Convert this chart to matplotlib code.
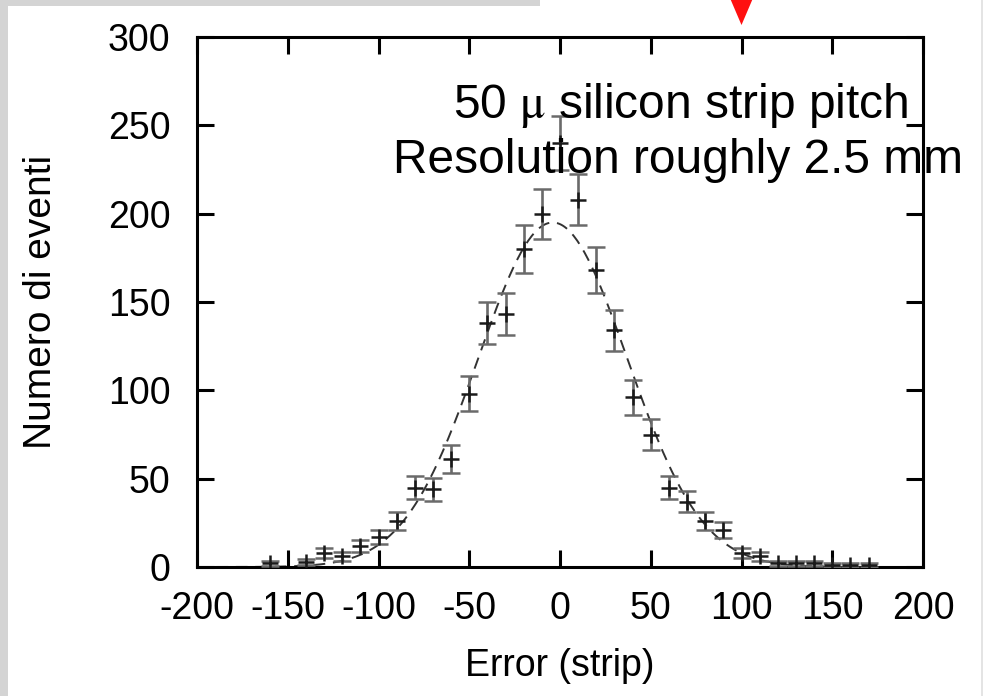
import numpy as np
import matplotlib
matplotlib.use('Agg')
import matplotlib.pyplot as plt
from matplotlib.patches import Rectangle, Polygon
from matplotlib import transforms

plt.rcParams['font.family'] = ['Liberation Sans', 'DejaVu Sans']
plt.rcParams['axes.unicode_minus'] = False
plt.rcParams['mathtext.fontset'] = 'stix'

# histogram of the reconstruction error (strip units)
error_bins = [-160, -140, -130, -120, -110, -100, -90, -80, -70, -60,
              -50, -40, -30, -20, -10, 0, 10, 20, 30, 40,
              50, 60, 70, 80, 90, 100, 110, 120, 130, 140,
              150, 160, 170]
counts = [2, 3, 8, 6, 12, 17, 26, 45, 44, 61,
          98, 138, 143, 180, 200, 240, 208, 168, 134, 96,
          75, 45, 37, 26, 21, 8, 6, 2, 2, 2,
          1, 1, 1]

# gaussian fit drawn as dashed line
fit_amp = 195.0
fit_mean = -4.0
fit_sigma = 41.0

x_ticks = [-200, -150, -100, -50, 0, 50, 100, 150, 200]
y_ticks = [0, 50, 100, 150, 200, 250, 300]
arrow_x = 100

x = np.array(error_bins, dtype=float)
y = np.array(counts, dtype=float)
yerr = np.sqrt(y)

fig = plt.figure(figsize=(9.83, 6.96), dpi=100)
fig.patch.set_facecolor('white')

# marble-ish border remnants of the slide
fig.patches.append(Rectangle((0, 0), 8 / 983, 1, transform=fig.transFigure,
                             facecolor='#d4d4d4', edgecolor='none', zorder=0))
fig.patches.append(Rectangle((0, 1 - 6 / 696), 540 / 983, 6 / 696,
                             transform=fig.transFigure,
                             facecolor='#d4d4d4', edgecolor='none', zorder=0))
fig.patches.append(Rectangle((981 / 983, 0), 2 / 983, 1, transform=fig.transFigure,
                             facecolor='#e4e4e4', edgecolor='none', zorder=0))

ax = fig.add_axes([197 / 983, 1 - 567 / 696, 726 / 983, 530 / 696])

xs = np.linspace(-200, 200, 400)
fit = fit_amp * np.exp(-(xs - fit_mean) ** 2 / (2 * fit_sigma ** 2))
ax.plot(xs, fit, color='#333333', lw=1.4, dashes=(6, 4), zorder=2)

ax.errorbar(x, y, yerr=yerr, fmt='+', color='#1a1a1a', ms=12, mew=1.8,
            ecolor='#6a6a6a', elinewidth=1.9, capsize=6.5, capthick=1.9, zorder=3)

ax.set_xlim(-200, 200)
ax.set_ylim(0, 300)
ax.set_xticks(x_ticks)
ax.set_yticks(y_ticks)
ax.tick_params(direction='in', length=12, width=2.2, top=True, right=True,
               labelsize=27, color='black')
ax.tick_params(axis='x', pad=17)
ax.tick_params(axis='y', pad=19)
for s in ax.spines.values():
    s.set_linewidth(2.2)

ax.set_xlabel('Error (strip)', fontsize=27)
ax.set_ylabel('Numero di eventi', fontsize=28)
ax.xaxis.set_label_coords(0.5, -0.152)
ax.yaxis.set_label_coords(-0.19, 0.5)

# annotation text
fig.text(681 / 983, 1 - 118 / 696, r'50 $\mathrm{\mu}$ silicon strip pitch',
         ha='center', va='baseline', fontsize=34.5, zorder=5)
fig.text(678 / 983, 1 - 173 / 696, 'Resolution roughly 2.5 mm',
         ha='center', va='baseline', fontsize=34.5, zorder=5)

# red marker arrow above the plot
trans = transforms.blended_transform_factory(ax.transData, ax.transAxes)
half_w = 13 / (726 / 400)
tri = Polygon([[arrow_x - half_w, 1.08], [arrow_x + half_w, 1.08], [arrow_x, 1.0226]],
              closed=True, transform=trans, facecolor='#ff1010', edgecolor='none',
              clip_on=False, zorder=6)
ax.add_patch(tri)

fig.savefig('out.png', dpi=100)
